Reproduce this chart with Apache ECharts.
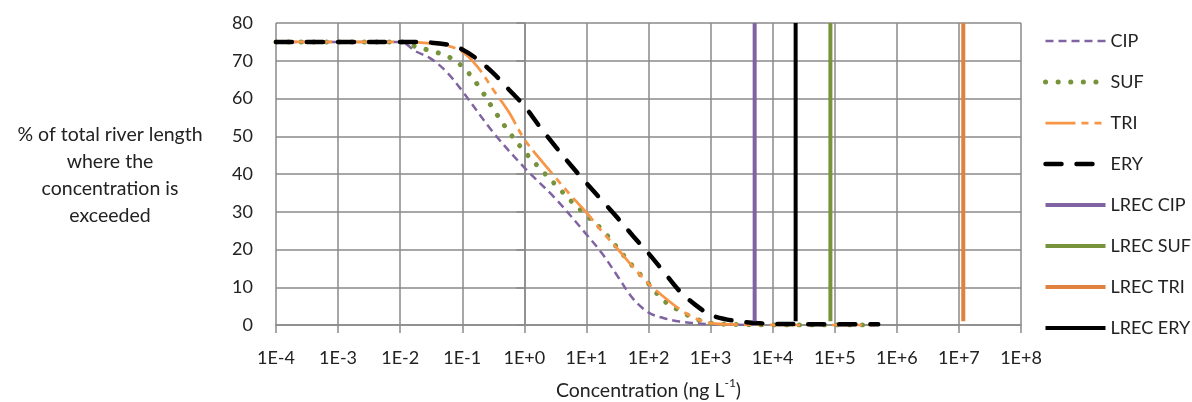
<!DOCTYPE html>
<html>
<head>
<meta charset="utf-8">
<script src="https://cdn.jsdelivr.net/npm/echarts@6/dist/echarts.min.js"></script>
<style>
  html, body { margin: 0; padding: 0; background: #fff; }
  #main { width: 1192px; height: 402px; }
</style>
</head>
<body>
<div id="main"></div>
<script>
// x values are log10 of concentration (ng/L)
var cipLogConc = [-4, -3, -2, -1.75, -1.5, -1.25, -1, -0.5, 0, 0.5, 1, 1.25, 1.5, 1.75, 2, 2.25, 2.5, 3, 3.7]
var cipPct = [75, 75, 75, 72.5, 70.5, 67, 62, 51, 41.7, 33.5, 24, 19, 13, 7, 3.3, 1.8, 0.9, 0.2, 0]

var sufLogConc = [-4, -3, -2, -1.8, -1.5, -1.25, -1, -0.75, -0.5, -0.25, 0, 0.25, 0.5, 0.75, 1, 1.25, 1.5, 1.75, 2, 2.25, 2.5, 2.75, 3, 3.5, 4, 5, 5.6]
var sufPct = [75, 75, 75, 74, 72.6, 71.3, 68.5, 63.6, 57.2, 51.2, 46, 41.5, 37.2, 32.9, 29, 25.3, 20.4, 15.5, 11, 6.4, 3.8, 1.7, 0.5, 0.1, 0, 0, 0]

var triLogConc = [-4, -3, -2, -1.5, -1.25, -1, -0.75, -0.5, -0.25, 0, 0.25, 0.5, 0.75, 1, 1.25, 1.5, 1.75, 2, 2.25, 2.5, 2.75, 3, 3.5, 4, 5, 5.7]
var triPct = [75, 75, 75, 74.6, 74, 72.4, 68.3, 62.3, 56.4, 49.2, 44, 39.1, 34.3, 29.8, 24.8, 20.2, 15.4, 11, 7.4, 4.2, 1.8, 0.5, 0.1, 0, 0, 0]

var eryLogConc = [-4, -3, -2, -1.5, -1.25, -1, -0.75, -0.5, -0.25, 0, 0.25, 0.5, 0.75, 1, 1.25, 1.5, 1.75, 2, 2.25, 2.5, 2.75, 3, 3.25, 3.5, 3.75, 4, 5, 5.7]
var eryPct = [75, 75, 75, 74.8, 74.3, 73, 70.3, 66.7, 62.4, 58, 52.5, 47.3, 42.3, 37.6, 33, 28.4, 23.6, 19, 14, 9, 5.4, 2.7, 1.5, 0.9, 0.5, 0.3, 0.2, 0.2]

// LREC values (log10 ng/L), drawn as vertical lines from 1 to 80 %
var lrecNames = ['LREC CIP', 'LREC SUF', 'LREC TRI', 'LREC ERY']
var lrecLogConc = [3.71, 4.93, 7.07, 4.37]
var lrecPct = [1, 80]

var xTicks = [-4, -3, -2, -1, 0, 1, 2, 3, 4, 5, 6, 7, 8]

var FONT = 'Lato'
var textColor = '#222'
var gridColor = '#8a8a8a'

function pairs(xs, ys) {
  return xs.map(function(x, i) { return [x, ys[i]] })
}

function tickLabel(v) {
  return '1E' + (v >= 0 ? '+' : '') + v
}

var chart = echarts.init(document.getElementById('main'))

var curveSeries = [
  {
    name: 'CIP',
    data: pairs(cipLogConc, cipPct),
    lineStyle: { color: '#8064a2', width: 2.5, type: [8, 5] }
  },
  {
    name: 'SUF',
    data: pairs(sufLogConc, sufPct),
    lineStyle: { color: '#77933c', width: 5, type: [0.1, 12.5], cap: 'round' }
  },
  {
    name: 'TRI',
    data: pairs(triLogConc, triPct),
    lineStyle: { color: '#f79646', width: 2.75, type: [30, 6, 7, 6, 7, 6] }
  },
  {
    name: 'ERY',
    data: pairs(eryLogConc, eryPct),
    lineStyle: { color: '#000000', width: 4.5, type: [16, 15], cap: 'round' }
  }
].map(function(s) {
  return Object.assign({ type: 'line', smooth: 0.35, symbol: 'none', itemStyle: { color: s.lineStyle.color } }, s)
})

var lrecColors = ['#8064a2', '#77933c', '#e0823d', '#000000']
var lrecSeries = lrecNames.map(function(name, i) {
  return {
    name: name,
    type: 'line',
    symbol: 'none',
    data: lrecPct.map(function(p) { return [lrecLogConc[i], p] }),
    lineStyle: { color: lrecColors[i], width: 4 },
    itemStyle: { color: lrecColors[i] }
  }
})

var allSeries = curveSeries.concat(lrecSeries)

// legend order: CIP, SUF, TRI, ERY, LREC CIP, LREC SUF, LREC TRI, LREC ERY
var legendData = allSeries.map(function(s) {
  return {
    name: s.name,
    lineStyle: Object.assign({}, s.lineStyle),
    itemStyle: { color: 'rgba(0,0,0,0)', borderWidth: 0, opacity: 0 }
  }
})

chart.setOption({
  animation: false,
  textStyle: { fontFamily: FONT },
  grid: { left: 276, right: 171, top: 23, bottom: 77, outerBoundsMode: 'none' },
  legend: {
    orient: 'vertical',
    left: 1038,
    top: 27,
    itemWidth: 60,
    itemHeight: 14,
    itemGap: 23,
    textStyle: { fontFamily: FONT, fontSize: 18, color: textColor },
    data: legendData
  },
  xAxis: {
    type: 'value',
    min: xTicks[0],
    max: xTicks[xTicks.length - 1],
    interval: 1,
    name: '{t|Concentration (ng L}{s|-1}{t|)}',
    nameLocation: 'middle',
    nameGap: 52,
    nameTextStyle: {
      rich: {
        t: { fontFamily: FONT, fontSize: 19.5, color: textColor, lineHeight: 24, verticalAlign: 'bottom' },
        s: { fontFamily: FONT, fontSize: 12, color: textColor, lineHeight: 24, verticalAlign: 'top' }
      }
    },
    axisLine: { lineStyle: { color: gridColor, width: 1.5 } },
    axisTick: { show: true, length: 8, lineStyle: { color: gridColor, width: 1.5 } },
    axisLabel: { formatter: tickLabel, fontSize: 18, color: textColor, margin: 24 },
    splitLine: { show: true, lineStyle: { color: gridColor, width: 1.5 } }
  },
  yAxis: {
    type: 'value',
    min: 0,
    max: 80,
    interval: 10,
    axisLine: { show: true, lineStyle: { color: gridColor, width: 1.5 } },
    axisTick: { show: true, length: 8, lineStyle: { color: gridColor, width: 1.5 } },
    axisLabel: { fontSize: 18, color: textColor, margin: 23 },
    splitLine: { show: true, lineStyle: { color: gridColor, width: 1.5 } }
  },
  graphic: [{
    type: 'text',
    x: 110,
    y: 121,
    style: {
      text: '% of total river length\nwhere the\nconcentration is\nexceeded',
      fontFamily: FONT,
      fontSize: 19.5,
      lineHeight: 27,
      fill: textColor,
      align: 'center',
      verticalAlign: 'top'
    }
  }],
  series: allSeries
})
</script>
</body>
</html>
